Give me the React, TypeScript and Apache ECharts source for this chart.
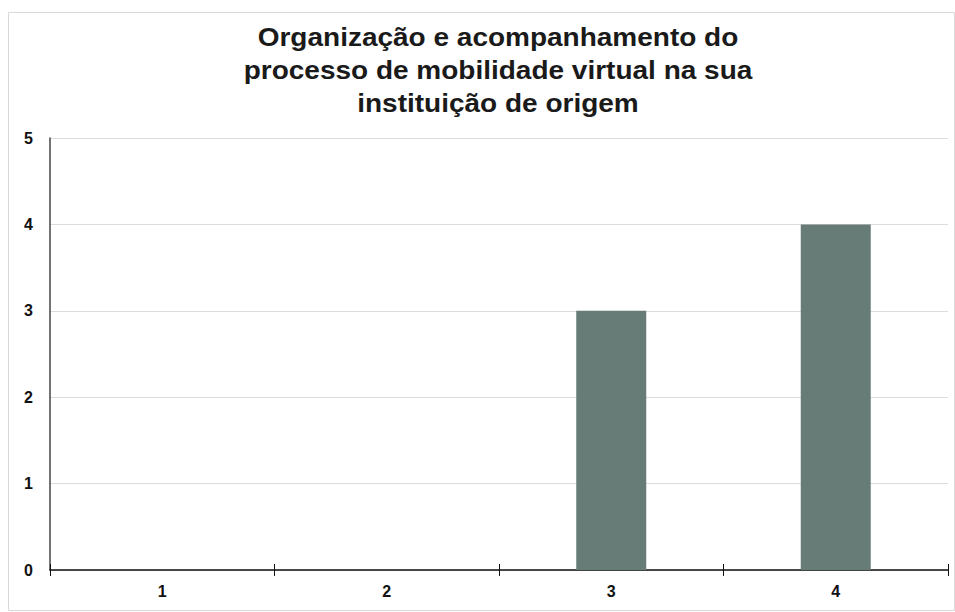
import React, { useEffect, useRef } from "react";
import * as echarts from "echarts";

const categories = ["1", "2", "3", "4"];
const values = [0, 0, 3, 4];
const titleText = "Organização e acompanhamento do\nprocesso de mobilidade virtual na sua\ninstituição de origem";

export default function App() {
  const ref = useRef<HTMLDivElement>(null);
  useEffect(() => {
    const chart = echarts.init(ref.current!, null, { renderer: "svg" });
    chart.setOption({
      animation: false,
      backgroundColor: "#ffffff",
      graphic: [
        {
          type: "rect",
          shape: { x: 8.5, y: 12.5, width: 946, height: 598 },
          style: { fill: "none", stroke: "#d9d9d9", lineWidth: 1 },
          silent: true,
          z: 0,
        },
        {
          type: "text",
          x: 498,
          y: 21,
          scaleX: 1.12,
          scaleY: 1,
          silent: true,
          style: {
            text: titleText,
            textAlign: "center",
            textVerticalAlign: "top",
            fontFamily: "Liberation Sans, Arial, sans-serif",
            fontWeight: "bold",
            fontSize: 25,
            lineHeight: 33,
            fill: "#1a1a1a",
          },
        },
      ],
      grid: { left: 50, right: 7, top: 138, bottom: 42, containLabel: false },
      xAxis: [
        {
          type: "category",
          data: categories,
          position: "bottom",
          axisLine: { show: true, lineStyle: { color: "#111", width: 1.5 } },
          axisTick: { show: true, length: 6, lineStyle: { color: "#111" } },
          axisLabel: {
            margin: 13,
            fontFamily: "Liberation Sans, Arial, sans-serif",
            fontWeight: "bold",
            fontSize: 16,
            color: "#111",
          },
          splitLine: { show: false },
        },
        {
          type: "category",
          data: categories,
          position: "bottom",
          offset: 0,
          axisLine: { show: false },
          axisTick: { show: true, inside: true, length: 6, lineStyle: { color: "#111" } },
          axisLabel: { show: false },
          splitLine: { show: false },
        },
      ],
      yAxis: {
        type: "value",
        min: 0,
        max: 5,
        interval: 1,
        axisLine: { show: true, lineStyle: { color: "#444", width: 1.5 } },
        axisTick: { show: false },
        axisLabel: {
          margin: 17,
          fontFamily: "Liberation Sans, Arial, sans-serif",
          fontWeight: "bold",
          fontSize: 16,
          color: "#111",
        },
        splitLine: { show: true, lineStyle: { color: "#dcdcdc", width: 1 } },
      },
      series: [
        {
          type: "bar",
          data: values,
          xAxisIndex: 0,
          barWidth: 70,
          itemStyle: { color: "#677c76" },
        },
      ],
    });
    return () => chart.dispose();
  }, []);
  return (
    <div
      ref={ref}
      style={{ position: "absolute", left: 0, top: 0, width: 955, height: 612 }}
    />
  );
}
